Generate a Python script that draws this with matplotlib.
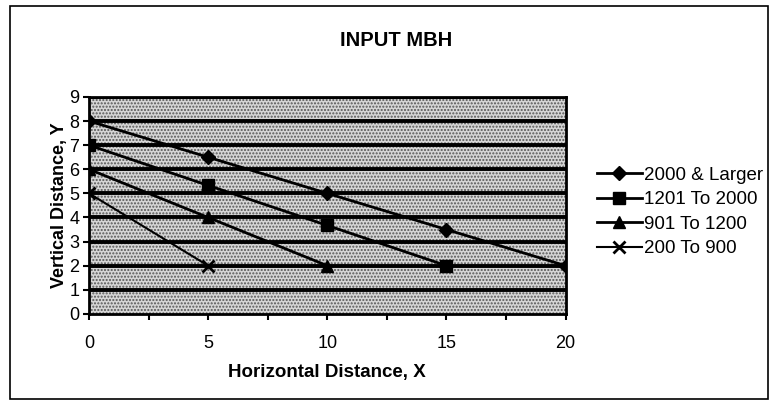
import matplotlib
matplotlib.use('Agg')
import matplotlib.pyplot as plt
from matplotlib.patches import Rectangle

plt.rcParams['font.family'] = ['Liberation Sans', 'DejaVu Sans']

# data
x_large = [0, 5, 10, 15, 20]
y_large = [8, 6.5, 5, 3.5, 2]
x_1201 = [0, 5, 10, 15]
y_1201 = [7, 5.33, 3.67, 2]
x_901 = [0, 5, 10]
y_901 = [6, 4, 2]
x_200 = [0, 5]
y_200 = [5, 2]

series_names = ['2000 & Larger', '1201 To 2000', '901 To 1200', '200 To 900']
x_ticks = [0, 5, 10, 15, 20]
y_ticks = list(range(10))

fig = plt.figure(figsize=(7.7, 4.04), dpi=100)
# outer chart frame
fig.patches.append(Rectangle((0.013, 0.012), 0.985, 0.973, transform=fig.transFigure,
                             fill=False, edgecolor='black', linewidth=1.2))

ax = fig.add_axes([0.1156, 0.223, 0.619, 0.537])
ax.set_facecolor('#d6d6d6')
ax.add_patch(Rectangle((0, 0), 1, 1, transform=ax.transAxes, facecolor='none',
                       edgecolor='#555555', hatch='.....', linewidth=0, zorder=0))

for yv in y_ticks[1:]:
    ax.axhline(yv, color='black', linewidth=2.8, zorder=1)

ax.plot(x_large, y_large, color='black', lw=2, marker='D', ms=7.5, label=series_names[0], zorder=3)
ax.plot(x_1201, y_1201, color='black', lw=2, marker='s', ms=9, label=series_names[1], zorder=3)
ax.plot(x_901, y_901, color='black', lw=2, marker='^', ms=9, label=series_names[2], zorder=3)
ax.plot(x_200, y_200, color='black', lw=1.5, marker='x', ms=9, mew=2, label=series_names[3], zorder=3)

ax.set_xlim(0, 20)
ax.set_ylim(0, 9)
ax.set_xticks(x_ticks)
ax.set_xticks([2.5, 7.5, 12.5, 17.5], minor=True)
ax.set_yticks(y_ticks)
ax.tick_params(axis='both', direction='out', length=4, width=1.5, labelsize=13, pad=3)
ax.tick_params(axis='x', which='minor', direction='out', length=4, width=1.5)
ax.tick_params(axis='x', pad=11)
for s in ax.spines.values():
    s.set_linewidth(2)
    s.set_color('black')

fig.text(0.515, 0.9, 'INPUT MBH', fontsize=14.5, fontweight='bold', ha='center', va='center')
ax.set_xlabel('Horizontal Distance, X', fontsize=13.5, fontweight='bold', labelpad=9)
ax.set_ylabel('Vertical Distance, Y', fontsize=13, fontweight='bold', labelpad=1)

ax.legend(loc='center left', bbox_to_anchor=(1.05, 0.47), frameon=False, fontsize=13.5,
          handlelength=2.4, handletextpad=0.1, labelspacing=0.4, borderaxespad=0)

fig.savefig('out.png', dpi=100)
